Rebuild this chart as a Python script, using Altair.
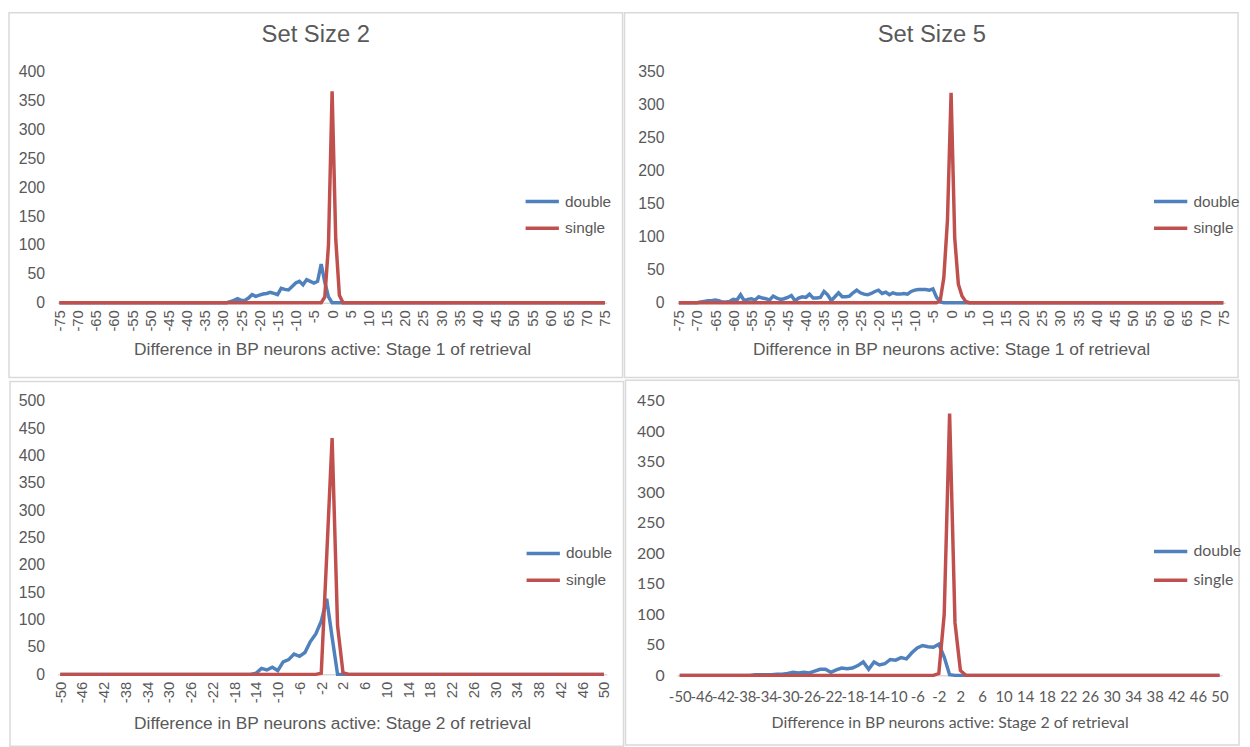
import altair as alt
import pandas as pd

BLUE = "#4F81BD"
RED = "#C0504D"
TXT = "#595959"
LINE_GRAY = "#D9D9D9"

# ---------------- data ----------------
# Panel A: Set Size 2, Stage 1 (x from -75 to 75)
a_x = list(range(-75, 76))
a_double_start = -30
a_double = [0, 0, 2, 4, 7, 4, 4, 8, 14, 11, 13, 15, 16, 18, 16, 14, 25, 23, 22,
            28, 34, 37, 31, 40, 37, 34, 37, 67, 35, 10, 0]
a_single_start = -3
a_single = [0, 10, 100, 366, 110, 13, 0]

# Panel B: Set Size 5, Stage 1 (x from -75 to 75)
b_x = list(range(-75, 76))
b_double_start = -71
b_double = [0, 0, 1, 2, 3, 3, 4, 3, 1, 1, 2, 5, 4, 12, 3, 5, 6, 4, 9, 7, 6, 4,
            10, 7, 5, 6, 8, 11, 3, 7, 9, 8, 13, 7, 7, 8, 17, 12, 3, 9, 15, 9, 9,
            10, 15, 19, 15, 13, 12, 14, 17, 19, 14, 16, 12, 15, 13, 13, 14, 13,
            17, 19, 20, 20, 20, 19, 21, 8, 1, 0]
b_single_start = -4
b_single = [0, 3, 38, 125, 318, 98, 28, 10, 2, 0]

# Panel C: Set Size 2, Stage 2 (x from -50 to 50)
c_x = list(range(-50, 51))
c_double_start = -15
c_double = [0, 2, 11, 8, 13, 7, 23, 27, 37, 33, 40, 60, 74, 97, 138, 68, 0]
c_single_start = -3
c_single = [0, 2, 215, 432, 89, 3, 0]

# Panel D: Set Size 5, Stage 2 (x from -50 to 50)
d_x = list(range(-50, 51))
d_double_start = -37
d_double = [0, 1, 1, 1, 1, 2, 2, 3, 5, 4, 5, 4, 7, 10, 10, 5, 9, 12, 11, 12, 16,
            22, 10, 22, 17, 19, 26, 25, 29, 27, 37, 45, 49, 47, 46, 51, 30, 1, 0]
d_single_start = -3
d_single = [0, 3, 100, 429, 86, 8, 0]

ticks_stage1 = list(range(-75, 76, 5))
ticks_stage2 = list(range(-50, 51, 4))


def full_series(xs, start, vals):
    out = []
    for x in xs:
        i = x - start
        out.append(vals[i] if 0 <= i < len(vals) else 0)
    return out


def panel(xs, dstart, dvals, sstart, svals, title, xtitle, ticks, ymax,
          W, H, rect, leg_xy, font, label_angle, xlab_pad, xtitle_pad,
          xtick_fs, ytick_fs, xtitle_fs, leg_fs):
    dbl = full_series(xs, dstart, dvals)
    sgl = full_series(xs, sstart, svals)
    df = pd.DataFrame({
        "x": xs + xs,
        "count": dbl + sgl,
        "series": ["double"] * len(xs) + ["single"] * len(xs),
    })
    xenc = alt.X(
        "x:Q",
        title=xtitle,
        scale=alt.Scale(domain=[xs[0] - 0.5, xs[-1] + 0.5], nice=False, zero=False),
        axis=alt.Axis(
            values=ticks, labelAngle=label_angle, labelExpr="'' + datum.value",
            labelOverlap=False, labelFlush=False, ticks=False, tickSize=0,
            grid=False, domainColor=LINE_GRAY, domainWidth=1.5,
            labelFont=font, labelFontSize=xtick_fs, labelColor=TXT,
            labelPadding=xlab_pad, titleFont=font, titleFontSize=xtitle_fs,
            titleFontWeight="normal", titleColor=TXT, titlePadding=xtitle_pad,
        ),
    )
    yenc = alt.Y(
        "count:Q",
        title=None,
        scale=alt.Scale(domain=[0, ymax], nice=False),
        axis=alt.Axis(
            values=list(range(0, ymax + 1, 50)), ticks=False, tickSize=0,
            domain=False, grid=False, labelFont=font, labelFontSize=ytick_fs,
            labelColor=TXT, labelPadding=13,
        ),
    )
    color = alt.Color(
        "series:N",
        scale=alt.Scale(domain=["double", "single"], range=[BLUE, RED]),
        legend=alt.Legend(
            title=None, orient="none", legendX=leg_xy[0], legendY=leg_xy[1],
            symbolType="M-1.4,0L1.4,0", symbolSize=576, symbolStrokeWidth=3.5,
            labelFont=font, labelFontSize=leg_fs, labelColor=TXT, labelOffset=9,
            rowPadding=leg_xy[2], padding=0,
        ),
    )
    base = alt.Chart(df).mark_line(strokeWidth=3.5).encode(x=xenc, y=yenc, color=color)
    blue = base.transform_filter(alt.datum.series == "double")
    red = base.transform_filter(alt.datum.series == "single")
    border = alt.Chart(pd.DataFrame({"b": [0]})).mark_rect(
        fill="transparent", stroke=LINE_GRAY, strokeWidth=1.5
    ).encode(
        x=alt.value(rect[0]), x2=alt.value(rect[1]),
        y=alt.value(rect[2]), y2=alt.value(rect[3]),
    )
    layer = alt.layer(border, blue, red).properties(width=W, height=H)
    if title:
        layer = layer.properties(title=alt.Title(
            title, font=font, fontSize=24, fontWeight="normal", color=TXT,
            anchor="middle", frame="bounds", offset=-35,
        ))
    return layer


FONT = "Liberation Sans"
A = panel(a_x, a_double_start, a_double, a_single_start, a_single,
          "Set Size 2", "Difference in BP neurons active: Stage 1 of retrieval",
          ticks_stage1, 400, 554, 233, (-49, 570, -59.5, 308.5), (475, 117, 4),
          FONT, -90, 7, 10, 15, 16, 17.5, 15.5)
B = panel(b_x, b_double_start, b_double, b_single_start, b_single,
          "Set Size 5", "Difference in BP neurons active: Stage 1 of retrieval",
          ticks_stage1, 350, 553, 233, (-53, 566, -59.5, 308.5), (484, 117, 4),
          FONT, -90, 7, 10, 15, 16, 17.5, 15.5)
C = panel(c_x, c_double_start, c_double, c_single_start, c_single,
          None, "Difference in BP neurons active: Stage 2 of retrieval",
          ticks_stage2, 500, 554, 276, (-48, 571, -19.5, 348.5), (476, 140, 4),
          FONT, -90, 7, 12, 15, 16, 17.5, 15.5)
D = panel(d_x, d_double_start, d_double, d_single_start, d_single,
          None, "Difference in BP neurons active: Stage 2 of retrieval",
          ticks_stage2, 450, 550, 277, (-52, 567, -20.75, 347.25), (484, 138, 7),
          "Lato", 0, 14, 11, 15, 16, 16, 16)

top = alt.hconcat(A, B, spacing=0).resolve_scale(color="independent").resolve_legend(color="independent")
bottom = alt.hconcat(C, D, spacing=0).resolve_scale(color="independent").resolve_legend(color="independent")
chart = alt.vconcat(top, bottom, spacing=0).resolve_scale(
    color="independent"
).resolve_legend(color="independent").properties(padding=0).configure_view(strokeWidth=0)

chart.save("out.html", embed_options={"renderer": "svg", "actions": False})
